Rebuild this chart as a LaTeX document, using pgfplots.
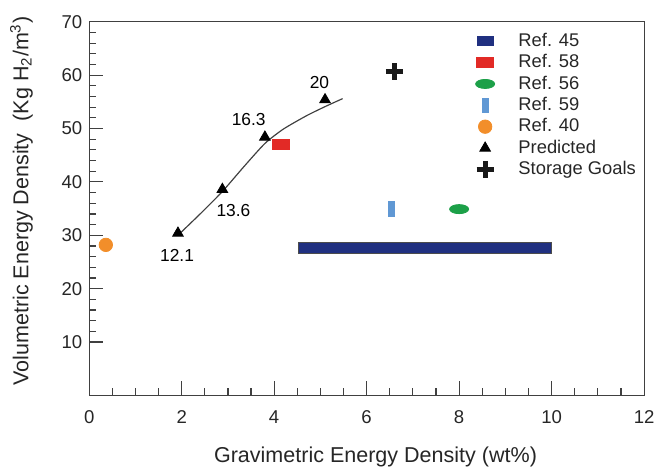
\documentclass[border=0pt]{standalone}
\usepackage{fontspec}
\setmainfont{Liberation Sans}
\usepackage{pgfplots}
\pgfplotsset{compat=1.18}
\definecolor{navy}{RGB}{32,48,128}
\definecolor{rred}{RGB}{226,42,38}
\definecolor{rgreen}{RGB}{28,160,72}
\definecolor{lblue}{RGB}{96,152,212}
\definecolor{rorange}{RGB}{242,142,42}
\definecolor{axc}{gray}{0.25}
\begin{document}
\begin{tikzpicture}
\begin{axis}[
  scale only axis, width=280bp, height=188.5bp,
  xmin=0, xmax=12, ymin=0, ymax=70,
  xtick={0,2,...,12}, ytick={10,20,...,70},
  minor x tick num=3, minor y tick num=4,
  tick align=inside, xtick pos=bottom, ytick pos=left,
  major tick length=7bp, minor tick length=3.5bp,
  axis line style={draw=axc, line width=0.6pt},
  tick style={draw=axc, line width=0.6pt},
  ytick style={draw=axc, line width=0.6pt},
  ticklabel style={font=\fontsize{9.4}{11}\selectfont, text=black!85},
  xticklabel style={yshift=-4bp},
  /pgf/number format/assume math mode=true,
  xlabel={Gravimetric Energy Density (wt\%)},
  ylabel={Volumetric Energy Density\ \ (Kg H\textsubscript{2}/m\textsuperscript{3})},
  label style={font=\fontsize{10.9}{12}\selectfont, text=black!85},
  xlabel style={at={(axis description cs:0.516,-0.166)}, anchor=center},
  ylabel style={at={(axis description cs:-0.122,0.52)}, anchor=center},
  clip=false,
  legend cell align=left,
  legend style={at={(rel axis cs:0.685,0.992)}, anchor=north west, draw=none, fill=none,
    font=\fontsize{9.3}{10}\selectfont, row sep=-1.4bp, text=black!85,
    /tikz/every odd column/.append style={column sep=10bp}},
]
% Ref. 45 bar
\addplot[fill=navy, draw=black!70, line width=0.3pt,
  legend image code/.code={\fill[navy] (0.16cm,-0.08cm) rectangle (0.44cm,0.08cm);}]
  coordinates {(4.52,26.7) (10.0,26.7) (10.0,28.7) (4.52,28.7)} --cycle;
\addlegendentry{Ref. 45}
% Ref. 58
\addplot[only marks, mark=square*, mark size=2.5pt, mark options={xscale=1.7, fill=rred, draw=rred}]
  coordinates {(4.14,47.1)};
\addlegendentry{Ref. 58}
% Ref. 56
\addplot[only marks, mark=*, mark size=2.3pt, mark options={xscale=2.1, fill=rgreen, draw=rgreen}]
  coordinates {(8.0,34.9)};
\addlegendentry{Ref. 56}
% Ref. 59
\addplot[only marks, mark=square*, mark size=1.5pt, mark options={yscale=2.5, fill=lblue, draw=lblue}]
  coordinates {(6.53,35.0)};
\addlegendentry{Ref. 59}
% Ref. 40
\addplot[only marks, mark=*, mark size=3.4pt, mark options={fill=rorange, draw=rorange}]
  coordinates {(0.36,28.2)};
\addlegendentry{Ref. 40}
% curve through predictions
\addplot[forget plot, smooth, tension=0.4, black!75, line width=0.6pt]
  coordinates {(1.92,30.0) (2.4,34.0) (2.88,38.2) (3.35,42.9) (3.8,47.2) (4.2,49.9) (4.7,52.4) (5.1,54.1) (5.48,55.6)};
% Predicted
\addplot[only marks, mark=triangle*, mark size=3.1pt, mark options={fill=black, draw=black}]
  coordinates {(1.92,30.4) (2.88,38.6) (3.80,48.4) (5.10,55.4)};
\addlegendentry{Predicted}
% Storage goals
\addplot[only marks, mark=+, mark size=4.3pt, mark options={line width=2.5pt, draw=black!90}]
  coordinates {(6.6,60.6)};
\addlegendentry{Storage Goals}
\node[font=\fontsize{8.8}{10}\selectfont] at (axis cs:1.90,26.3) {12.1};
\node[font=\fontsize{8.8}{10}\selectfont] at (axis cs:3.12,34.6) {13.6};
\node[font=\fontsize{8.8}{10}\selectfont] at (axis cs:3.45,51.6) {16.3};
\node[font=\fontsize{8.8}{10}\selectfont] at (axis cs:4.98,58.6) {20};
\coordinate (bl) at (rel axis cs:0,0);
\coordinate (tr) at (rel axis cs:1,1);
\end{axis}
\path ([xshift=-45bp,yshift=-33.5bp]bl) rectangle ([xshift=5.5bp,yshift=11bp]tr);
\end{tikzpicture}
\end{document}
